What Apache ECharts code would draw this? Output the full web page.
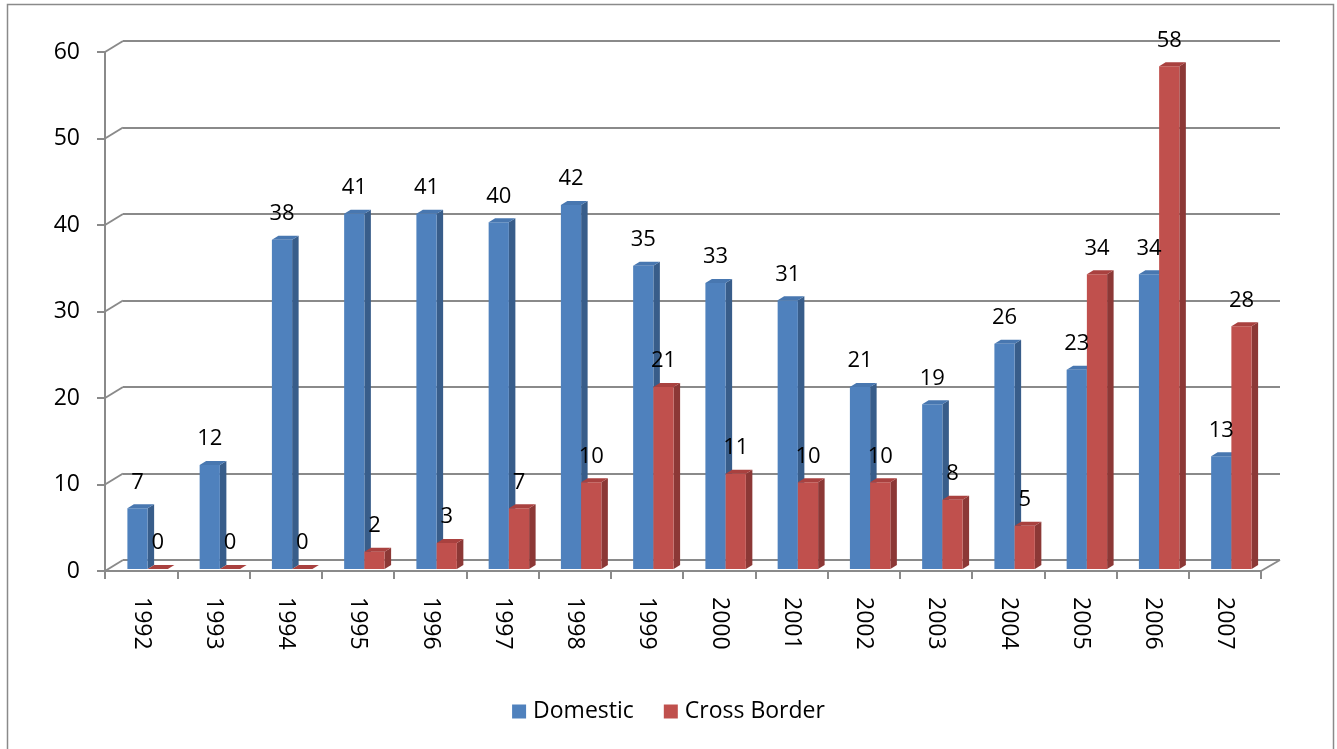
<!DOCTYPE html>
<html>
<head>
<meta charset="utf-8">
<script src="https://cdn.jsdelivr.net/npm/echarts@6/dist/echarts.min.js"></script>
<style>
html,body{margin:0;padding:0;background:#fff;}
#chart{width:1337px;height:749px;}
</style>
</head>
<body>
<div id="chart"></div>
<script>
const years = ['1992','1993','1994','1995','1996','1997','1998','1999','2000','2001','2002','2003','2004','2005','2006','2007'];
const domestic = [7,12,38,41,41,40,42,35,33,31,21,19,26,23,34,13];
const crossBorder = [0,0,0,2,3,7,10,21,11,10,10,8,5,34,58,28];
const yTicks = [0,10,20,30,40,50,60];

const FONT = 'Open Sans';
const GRAY = '#8a8a8a';

function barRenderer(offsetFrac, colors) {
  return function (params, api) {
    const i = api.value(0), v = api.value(1);
    const base = api.coord([i, 0]);
    const top = api.coord([i, v]);
    const bw = api.size([1, 0])[0];
    const w = bw * 0.28;
    const x0 = base[0] + bw * offsetFrac;
    const dx = 6.5, dy = 4;
    const yb = base[1], yt = top[1];
    const children = [];
    if (yb - yt > 0.5) {
      children.push({
        type: 'polygon',
        shape: { points: [[x0 + w, yt], [x0 + w + dx, yt - dy], [x0 + w + dx, yb - dy], [x0 + w, yb]] },
        style: { fill: colors.side }
      });
      children.push({
        type: 'rect',
        shape: { x: x0, y: yt, width: w, height: yb - yt },
        style: { fill: colors.front }
      });
    }
    children.push({
      type: 'polygon',
      shape: { points: [[x0, yt], [x0 + dx, yt - dy], [x0 + w + dx, yt - dy], [x0 + w, yt]] },
      style: { fill: colors.top }
    });
    children.push({
      type: 'text',
      z2: 100,
      style: {
        text: String(v), x: x0 + w / 2, y: yt - 26,
        align: 'center', verticalAlign: 'middle',
        fontFamily: FONT, fontSize: 22, fill: '#000'
      }
    });
    return { type: 'group', children: children };
  };
}

const chart = echarts.init(document.getElementById('chart'));
const option = {
  backgroundColor: '#fff',
  animation: false,
  graphic: [{
    type: 'rect', left: 5, top: 2, silent: true,
    shape: { width: 1326, height: 760 },
    style: { fill: 'none', stroke: '#8a8a8a', lineWidth: 1.5 }
  }],
  legend: {
    top: 695, left: 'center',
    itemWidth: 14, itemHeight: 14, itemGap: 30,
    icon: 'rect',
    textStyle: { fontFamily: FONT, fontSize: 23, color: '#000', padding: [0, 0, 0, 2] },
    data: ['Domestic', 'Cross Border']
  },
  grid: [
    { left: 105, right: 76, top: 52, bottom: 178 },
    { left: 123, right: 57, top: 41, bottom: 189 },
    { left: 105, right: 76, top: 49, bottom: 180 }
  ],
  xAxis: [
    {
      gridIndex: 0, type: 'category', data: years, boundaryGap: true,
      axisLine: { show: true, lineStyle: { color: GRAY, width: 2 } },
      axisTick: { show: true, length: 8, lineStyle: { color: GRAY, width: 2 } },
      axisLabel: { rotate: -90, margin: 26, fontFamily: FONT, fontSize: 23, color: '#000' },
      splitLine: { show: false }
    },
    { gridIndex: 1, type: 'category', data: years, show: false },
    { gridIndex: 2, type: 'category', data: years, show: false }
  ],
  yAxis: [
    {
      gridIndex: 0, type: 'value', min: 0, max: 60, interval: 10,
      axisLine: { show: true, lineStyle: { color: GRAY, width: 2 } },
      axisTick: { show: true, length: 8, lineStyle: { color: GRAY, width: 2 } },
      axisLabel: { margin: 25, fontFamily: FONT, fontSize: 23, color: '#000' },
      splitLine: { show: false }
    },
    {
      gridIndex: 1, type: 'value', min: 0, max: 60, interval: 10,
      axisLine: { show: false }, axisTick: { show: false }, axisLabel: { show: false },
      splitLine: { show: true, lineStyle: { color: GRAY, width: 2 } }
    },
    { gridIndex: 2, type: 'value', min: 0, max: 60, interval: 10, show: false, splitLine: { show: false } }
  ],
  series: [
    {
      name: 'diag', type: 'custom', xAxisIndex: 0, yAxisIndex: 0, silent: true,
      data: yTicks.map(v => [0, v]),
      renderItem: function (params, api) {
        const cs = params.coordSys;
        const v = api.value(1);
        const y = api.coord([0, v])[1];
        const ch = [{
          type: 'line',
          shape: { x1: cs.x, y1: y, x2: cs.x + 18, y2: y - 11 },
          style: { stroke: GRAY, lineWidth: 2 }
        }];
        if (v === 0) {
          ch.push({
            type: 'line',
            shape: { x1: cs.x + cs.width, y1: y, x2: cs.x + cs.width + 19, y2: y - 11 },
            style: { stroke: GRAY, lineWidth: 2 }
          });
        }
        return { type: 'group', children: ch };
      }
    },
    {
      name: 'Domestic', type: 'custom', xAxisIndex: 2, yAxisIndex: 2,
      itemStyle: { color: '#4F81BD' },
      data: domestic.map((v, i) => [i, v]),
      renderItem: barRenderer(-0.19, { front: '#4F81BD', side: '#385D8A', top: '#4877B0' })
    },
    {
      name: 'Cross Border', type: 'custom', xAxisIndex: 2, yAxisIndex: 2,
      itemStyle: { color: '#C0504D' },
      data: crossBorder.map((v, i) => [i, v]),
      renderItem: barRenderer(0.09, { front: '#C0504D', side: '#8C3836', top: '#A9413F' })
    }
  ]
};
chart.setOption(option);
</script>
</body>
</html>
